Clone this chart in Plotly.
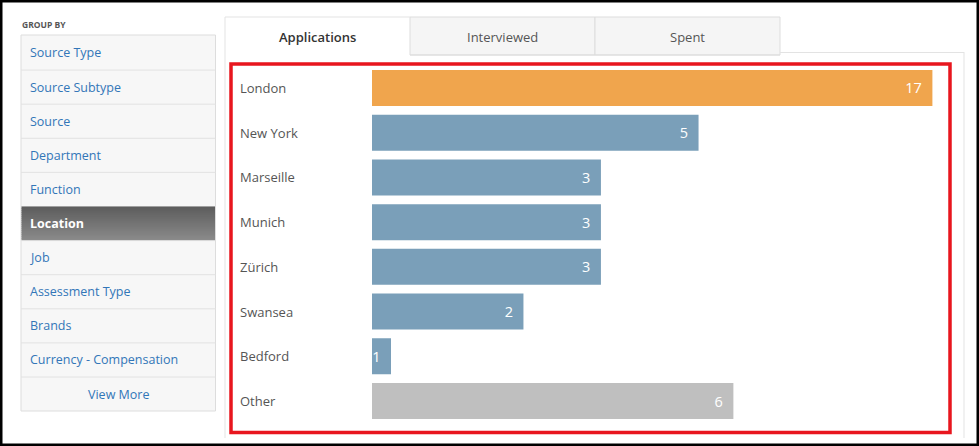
import plotly.graph_objects as go
import numpy as np

# ---------------- data ----------------
locations = ["London", "New York", "Marseille", "Munich", "Zürich", "Swansea", "Bedford", "Other"]
applications = [17, 5, 3, 3, 3, 2, 1, 6]
group_by_items = ["Source Type", "Source Subtype", "Source", "Department", "Function",
                  "Location", "Job", "Assessment Type", "Brands", "Currency - Compensation"]
active_item = "Location"
tabs = ["Applications", "Interviewed", "Spent"]
active_tab = "Applications"

# ---------------- style ----------------
W, H = 979, 446
bar_colors = ["#F0A54D", "#7A9FB9", "#7A9FB9", "#7A9FB9", "#7A9FB9", "#7A9FB9", "#7A9FB9", "#BFBFBF"]
FONT = "Open Sans"
LINK = "#3276B8"


def X(px):
    return px / W


def Y(py):
    return 1 - py / H


fig = go.Figure()
fig.add_trace(go.Bar(
    y=locations, x=applications, orientation="h",
    marker=dict(color=bar_colors, line=dict(width=0)),
    text=applications, texttemplate="%{x}\u00a0\u00a0",
    textposition="inside", insidetextanchor="end",
    textfont=dict(family=FONT, size=14.5, color="white"),
    hoverinfo="skip", showlegend=False,
))

shapes = []
annotations = []


def rect(x0, y0, x1, y1, fill=None, line=None, lw=1, layer="above"):
    shapes.append(dict(type="rect", xref="paper", yref="paper",
                       x0=X(x0), x1=X(x1), y0=Y(y1), y1=Y(y0),
                       fillcolor=fill if fill else "rgba(0,0,0,0)",
                       line=dict(color=line if line else "rgba(0,0,0,0)", width=lw if line else 0),
                       layer=layer))


def hline(x0, x1, y, color, lw=1):
    shapes.append(dict(type="line", xref="paper", yref="paper",
                       x0=X(x0), x1=X(x1), y0=Y(y), y1=Y(y), line=dict(color=color, width=lw)))


def vline(x, y0, y1, color, lw=1):
    shapes.append(dict(type="line", xref="paper", yref="paper",
                       x0=X(x), x1=X(x), y0=Y(y0), y1=Y(y1), line=dict(color=color, width=lw)))


def text(px, py, s, size=13, color="#555", anchor="left", weight=None):
    f = dict(family=FONT, size=size, color=color)
    if weight:
        f["weight"] = weight
    annotations.append(dict(xref="paper", yref="paper", x=X(px), y=Y(py), text=s,
                            showarrow=False, xanchor=anchor, yanchor="middle", font=f))


# ---------------- sidebar ----------------
text(20, 24, "GROUP BY", size=8.5, color="#555", weight="bold")
row_top = [35] + [36 + 34.1 * i for i in range(1, 11)]
row_bot = [36 + 34.1 * i for i in range(1, 12)]
rect(21, 35, 215.5, 411, fill="#F7F7F7", line="#DDDDDD", lw=1, layer="below")
for i, item in enumerate(group_by_items + ["View More"]):
    t, b = row_top[i], row_bot[i]
    if i > 0:
        hline(21, 215.5, t, "#E2E2E2")
    c = (t + b) / 2
    if item == active_item:
        n = 17
        for k in range(n):
            g = int(0x5E + (0x8A - 0x5E) * k / (n - 1))
            col = "#%02x%02x%02x" % (g, g, g)
            y0 = t + (b - t) * k / n
            y1 = t + (b - t) * (k + 1) / n + 0.5
            rect(21.5, y0, 215, y1, fill=col)
        text(28, c, item, size=12.5, color="white", weight="bold")
    elif item == "View More":
        text(118, c, item, size=12.5, color=LINK, anchor="center")
    else:
        text(28, c, item, size=12.5, color=LINK)

# ---------------- tabs & panel ----------------
tab_x = [225, 410, 595, 780]
vline(225, 55, 438, "#E3E3E3")
vline(964, 52, 438, "#E3E3E3")
hline(780, 964, 52.5, "#E3E3E3")
hline(410, 780, 55, "#DDDDDD")
for i, tb in enumerate(tabs):
    x0, x1 = tab_x[i], tab_x[i + 1]
    if tb == active_tab:
        rect(x0, 17, x1, 60, fill="white", layer="below")
        hline(x0, x1, 17, "#E3E3E3")
        vline(x0, 17, 55, "#E3E3E3")
        text((x0 + x1) / 2, 37, tb, size=13, color="#333", anchor="center", weight=600)
    else:
        rect(x0, 17, x1, 55, fill="#F5F5F5", line="#DDDDDD", lw=1, layer="below")
        text((x0 + x1) / 2, 37, tb, size=13, color="#555", anchor="center")

# red highlight box
rect(231, 64, 950, 432.5, line="#E8161E", lw=3.5)
# outer black frame
rect(1, 1, 978, 445, line="black", lw=3)

# category labels
for loc in locations:
    annotations.append(dict(xref="paper", yref="y", x=X(238), y=loc, text=loc, showarrow=False,
                            xanchor="left", yanchor="middle",
                            font=dict(family=FONT, size=13, color="#555")))

# log scale mapping for bar lengths
px_per_decade = 440.0
left_px, right_px = 372, 945
lo = -19 / px_per_decade
hi = lo + (right_px - left_px) / px_per_decade

fig.update_layout(
    width=W, height=H, margin=dict(l=0, r=0, t=0, b=0),
    paper_bgcolor="white", plot_bgcolor="rgba(0,0,0,0)",
    bargap=0.195,
    xaxis=dict(type="log", range=[lo, hi], domain=[X(left_px), X(right_px)],
               showgrid=False, zeroline=False, showticklabels=False, showline=False, ticks=""),
    yaxis=dict(categoryorder="array", categoryarray=locations, range=[7.5, -0.5],
               domain=[Y(423.4), Y(65.6)], showgrid=False, zeroline=False,
               showticklabels=False, showline=False, ticks=""),
    uniformtext=dict(minsize=14, mode="show"),
    shapes=shapes, annotations=annotations,
    font=dict(family=FONT),
)

fig.write_html("out.html", config={"displayModeBar": False},
               post_script="document.body.style.margin='0';document.body.style.overflow='hidden';")
